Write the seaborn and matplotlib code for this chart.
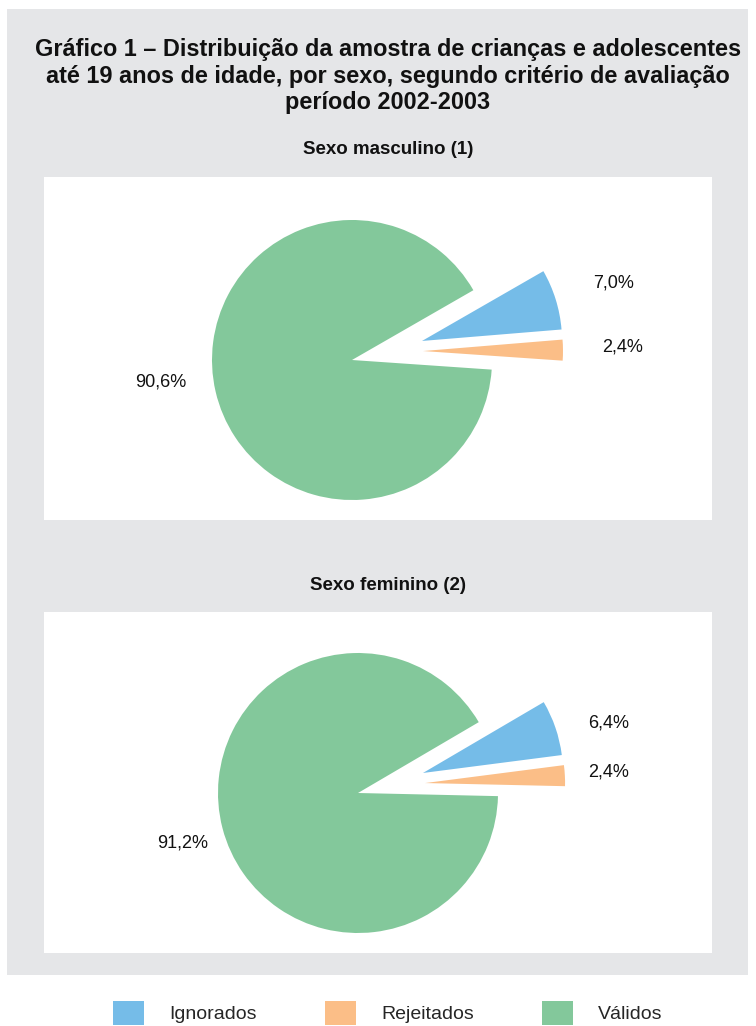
import matplotlib
matplotlib.use('Agg')
import matplotlib.pyplot as plt
from matplotlib.patches import Rectangle, Patch
import seaborn as sns

# Data
categories = ['Ignorados', 'Rejeitados', 'Válidos']
masculino = [7.0, 2.4, 90.6]
feminino = [6.4, 2.4, 91.2]
masc_labels = ['7,0%', '2,4%', '90,6%']
fem_labels = ['6,4%', '2,4%', '91,2%']

sns.set_theme(style='white')
palette = sns.color_palette(['#75BCE8', '#FBBE87', '#83C89B'])
plt.rcParams['font.family'] = ['Liberation Sans', 'DejaVu Sans']

W, H = 756, 1026
fig = plt.figure(figsize=(W / 100, H / 100), dpi=100, facecolor='white')


def fx(px):
    return px / W


def fy(py):
    return 1 - py / H


# gray panel
fig.add_artist(Rectangle((fx(7), fy(975)), fx(741), 966 / H, transform=fig.transFigure,
                         facecolor='#E5E6E8', edgecolor='none', zorder=-3))

fig.text(fx(388), fy(76), 'Gráfico 1 – Distribuição da amostra de crianças e adolescentes\n'
         'até 19 anos de idade, por sexo, segundo critério de avaliação\nperíodo 2002-2003',
         ha='center', va='center', fontsize=16.9, fontweight='bold',
         linespacing=1.2, color='#111111')


def draw_pie(values, labels, title, box, center, start, shifts, label_pos):
    x0, y0, x1, y1 = box
    cx, cy = center
    r = 140.0
    fig.add_artist(Rectangle((fx(x0), fy(y1)), (x1 - x0) / W, (y1 - y0) / H,
                             transform=fig.transFigure, facecolor='white',
                             edgecolor='none', zorder=-2))
    fig.text(fx(388), fy(y0 - 27), title, ha='center', va='center', fontsize=13.5,
             fontweight='bold', color='#111111')
    ax = fig.add_axes([fx(x0), fy(y1), (x1 - x0) / W, (y1 - y0) / H])
    wedges, _ = ax.pie(values, colors=palette, startangle=start, counterclock=False,
                       radius=1.0, wedgeprops=dict(linewidth=0))
    # pulled-out slices (Excel style offset)
    for w, s in zip(wedges, shifts):
        w.set_center(s)
    ax.set_xlim((x0 - cx) / r, (x1 - cx) / r)
    ax.set_ylim(-(y1 - cy) / r, (cy - y0) / r)
    ax.set_aspect('auto')
    ax.set_axis_off()
    for lab, (lx, ly) in zip(labels, label_pos):
        ax.text(lx, ly, lab, ha='center', va='center', fontsize=13, color='#111111')
    return wedges


draw_pie(masculino, masc_labels, 'Sexo masculino (1)', (44, 177, 712, 520),
         (352, 360), 29.9, [(0.50, 0.136), (0.507, 0.064), (0, 0)],
         [(1.871, 0.55), (1.936, 0.093), (-1.368, -0.157)])
draw_pie(feminino, fem_labels, 'Sexo feminino (2)', (44, 612, 712, 953),
         (358, 793), 30.4, [(0.464, 0.143), (0.479, 0.071), (0, 0)],
         [(1.789, 0.5), (1.789, 0.15), (-1.25, -0.357)])

handles = [Patch(facecolor=c, edgecolor='none') for c in palette]
fig.legend(handles, categories, loc='center', bbox_to_anchor=(fx(388), fy(1013)),
           ncol=3, frameon=False, prop={'size': 14},
           handlelength=1.6, handleheight=1.6, handletextpad=1.29, columnspacing=3.5)

fig.savefig('out.png', dpi=100, facecolor='white')
